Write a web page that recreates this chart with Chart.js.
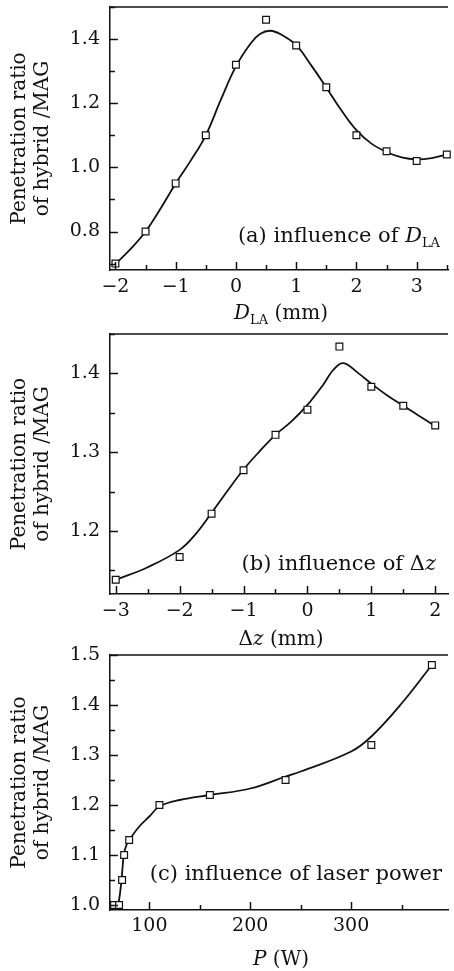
<!DOCTYPE html>
<html>
<head>
<meta charset="utf-8">
<script src="https://cdn.jsdelivr.net/npm/chart.js@4.4.1/dist/chart.umd.min.js"></script>
<style>
  body { margin: 0; background: #fff; overflow: hidden; }
  canvas { position: absolute; left: 0; }
</style>
</head>
<body>
<canvas id="chartA" width="454" height="330" style="top:0px"></canvas>
<canvas id="chartB" width="454" height="330" style="top:325px"></canvas>
<canvas id="chartC" width="454" height="331" style="top:640px"></canvas>
<script>
// (a) influence of D_LA
const dlaValues = [-2, -1.5, -1, -0.5, 0, 0.5, 1, 1.5, 2, 2.5, 3, 3.5]
const dlaRatio = [0.70, 0.80, 0.95, 1.10, 1.32, 1.46, 1.38, 1.25, 1.10, 1.05, 1.02, 1.04]
const dlaFitX = [-2, -1.75, -1.5, -1.25, -1, -0.75, -0.5, -0.25, 0, 0.25, 0.4, 0.57, 0.75, 1, 1.25, 1.5, 1.75, 2, 2.25, 2.5, 2.75, 3, 3.25, 3.5]
const dlaFitY = [0.699, 0.745, 0.80, 0.872, 0.95, 1.021, 1.10, 1.211, 1.315, 1.388, 1.416, 1.426, 1.414, 1.381, 1.318, 1.249, 1.178, 1.116, 1.074, 1.048, 1.031, 1.025, 1.029, 1.04]
const dlaXTicks = [-2, -1.5, -1, -0.5, 0, 0.5, 1, 1.5, 2, 2.5, 3, 3.5]
const dlaXLabels = [-2, -1, 0, 1, 2, 3]
const dlaYTicks = [0.7, 0.8, 0.9, 1.0, 1.1, 1.2, 1.3, 1.4, 1.5]
const dlaYLabels = [0.8, 1.0, 1.2, 1.4]

// (b) influence of delta z
const dzValues = [-3, -2, -1.5, -1, -0.5, 0, 0.5, 1, 1.5, 2]
const dzRatio = [1.138, 1.167, 1.222, 1.277, 1.322, 1.354, 1.434, 1.383, 1.359, 1.334]
const dzFitX = [-3, -2.5, -2, -1.75, -1.5, -1.25, -1, -0.75, -0.5, -0.25, 0, 0.25, 0.4, 0.56, 0.8, 1, 1.25, 1.5, 1.75, 2]
const dzFitY = [1.138, 1.154, 1.176, 1.196, 1.223, 1.251, 1.278, 1.301, 1.322, 1.339, 1.360, 1.386, 1.404, 1.413, 1.400, 1.387, 1.372, 1.359, 1.346, 1.333]
const dzXTicks = [-3, -2.5, -2, -1.5, -1, -0.5, 0, 0.5, 1, 1.5, 2]
const dzXLabels = [-3, -2, -1, 0, 1, 2]
const dzYTicks = [1.15, 1.2, 1.25, 1.3, 1.35, 1.4, 1.45]
const dzYLabels = [1.2, 1.3, 1.4]

// (c) influence of laser power
const powerValues = [65, 70, 73, 75, 80, 110, 160, 235, 320, 380]
const powerRatio = [1.0, 1.0, 1.05, 1.10, 1.13, 1.20, 1.22, 1.25, 1.32, 1.48]
const powerFitX = [68, 70, 72.4, 74.7, 77.3, 80.5, 90, 100, 110, 130, 160, 200, 235, 250, 300, 320, 350, 380]
const powerFitY = [0.995, 1.01, 1.05, 1.10, 1.12, 1.131, 1.157, 1.177, 1.197, 1.21, 1.22, 1.233, 1.257, 1.267, 1.307, 1.337, 1.403, 1.48]
const powerXTicks = [100, 150, 200, 250, 300, 350]
const powerXLabels = [100, 200, 300]
const powerYTicks = [1.0, 1.05, 1.1, 1.15, 1.2, 1.25, 1.3, 1.35, 1.4, 1.45, 1.5]
const powerYLabels = [1.0, 1.1, 1.2, 1.3, 1.4, 1.5]

const ink = '#111'
const serif = '"DejaVu Serif", serif'
const f20 = '20px ' + serif
const i20 = 'italic 20px ' + serif
const f21 = '21px ' + serif
const i21 = 'italic 21px ' + serif
const f13 = '13px ' + serif

const has = (list, v) => list.some(l => Math.abs(l - v) < 1e-9)

function drawRich(ctx, parts, x, y, align) {
  let w = 0
  parts.forEach(p => { ctx.font = p.font; w += ctx.measureText(p.text).width })
  let cx = align === 'right' ? x - w : align === 'center' ? x - w / 2 : x
  ctx.save()
  ctx.fillStyle = ink
  ctx.textAlign = 'left'
  ctx.textBaseline = 'alphabetic'
  parts.forEach(p => {
    ctx.font = p.font
    ctx.fillText(p.text, cx, y + (p.dy || 0))
    cx += ctx.measureText(p.text).width
  })
  ctx.restore()
}

// top frame line, inward ticks and the rich texts
const framePlugin = {
  id: 'frame',
  afterDraw(chart, args, opts) {
    const { ctx, chartArea: a, scales } = chart
    ctx.save()
    ctx.strokeStyle = ink
    ctx.lineWidth = 1.5
    ctx.beginPath()
    ctx.moveTo(a.left, a.top)
    ctx.lineTo(a.right, a.top)
    ctx.stroke()
    scales.x.ticks.forEach(t => {
      const px = Math.round(scales.x.getPixelForValue(t.value)) + 0.5
      const len = t.label ? 8 : 5
      ctx.beginPath()
      ctx.moveTo(px, a.bottom)
      ctx.lineTo(px, a.bottom - len)
      ctx.stroke()
    })
    scales.y.ticks.forEach(t => {
      const py = Math.round(scales.y.getPixelForValue(t.value)) + 0.5
      const len = t.label ? 8 : 5
      ctx.beginPath()
      ctx.moveTo(a.left, py)
      ctx.lineTo(a.left + len, py)
      ctx.stroke()
    })
    ctx.restore()
    drawRich(ctx, opts.note, opts.noteX, opts.noteY, 'right')
    drawRich(ctx, opts.title, (a.left + a.right) / 2 + 2, opts.titleY, 'center')
  }
}

function makeChart(id, p) {
  return new Chart(document.getElementById(id), {
    type: 'scatter',
    data: {
      datasets: [{
        data: p.fitX.map((x, i) => ({ x: x, y: p.fitY[i] })),
        showLine: true,
        borderColor: ink,
        borderWidth: 1.8,
        pointRadius: 0,
        tension: 0.4,
        order: 2
      }, {
        data: p.xs.map((x, i) => ({ x: x, y: p.ys[i] })),
        showLine: false,
        pointStyle: 'rect',
        pointRadius: 4.8,
        pointBorderWidth: 1.2,
        borderColor: ink,
        backgroundColor: '#fff',
        clip: false,
        order: 1
      }]
    },
    options: {
      responsive: false,
      animation: false,
      events: [],
      layout: { padding: { top: p.top, left: 0, right: 0, bottom: 0 } },
      plugins: {
        legend: { display: false },
        tooltip: { enabled: false },
        frame: { note: p.note, noteX: p.noteX, noteY: p.noteY, title: p.title, titleY: p.titleY }
      },
      scales: {
        x: {
          type: 'linear',
          min: p.xMin,
          max: p.xMax,
          afterBuildTicks: s => { s.ticks = p.xTicks.map(v => ({ value: v })) },
          afterFit: s => { s.height = p.xHeight; s.paddingLeft = 0; s.paddingRight = 0 },
          grid: { display: false, drawTicks: false },
          border: { display: true, color: ink, width: 1.5 },
          ticks: {
            autoSkip: false,
            maxRotation: 0,
            padding: p.xPad,
            color: ink,
            font: { family: serif, size: 19 },
            callback: v => has(p.xLabels, v) ? (v < 0 ? '\u2212' + Math.abs(v) : String(v)) : ''
          }
        },
        y: {
          min: p.yMin,
          max: p.yMax,
          afterBuildTicks: s => { s.ticks = p.yTicks.map(v => ({ value: v })) },
          afterFit: s => { s.width = 110; s.paddingTop = 0; s.paddingBottom = 0 },
          grid: { display: false, drawTicks: false },
          border: { display: true, color: ink, width: 1.5 },
          ticks: {
            autoSkip: false,
            padding: 10,
            color: ink,
            font: { family: serif, size: 19 },
            callback: v => has(p.yLabels, v) ? v.toFixed(1) : ''
          },
          title: {
            display: true,
            text: ['Penetration ratio', 'of hybrid /MAG'],
            color: ink,
            font: { family: serif, size: 20, lineHeight: 1.15 },
            padding: { top: 8.5, bottom: 0 }
          }
        }
      }
    },
    plugins: [framePlugin]
  })
}

makeChart('chartA', {
  xs: dlaValues, ys: dlaRatio, fitX: dlaFitX, fitY: dlaFitY,
  xMin: -2.09, xMax: 3.52, yMin: 0.68, yMax: 1.5,
  xTicks: dlaXTicks, xLabels: dlaXLabels, yTicks: dlaYTicks, yLabels: dlaYLabels,
  top: 7, xHeight: 60, xPad: 6,
  note: [{ text: '(a) influence of ', font: f21 }, { text: 'D', font: i21 }, { text: 'LA', font: f13, dy: 5 }],
  noteX: 440, noteY: 242,
  title: [{ text: 'D', font: i20 }, { text: 'LA', font: f13, dy: 5 }, { text: ' (mm)', font: f20 }],
  titleY: 319
})

makeChart('chartB', {
  xs: dzValues, ys: dzRatio, fitX: dzFitX, fitY: dzFitY,
  xMin: -3.09, xMax: 2.2, yMin: 1.12, yMax: 1.45,
  xTicks: dzXTicks, xLabels: dzXLabels, yTicks: dzYTicks, yLabels: dzYLabels,
  top: 9, xHeight: 61, xPad: 6,
  note: [{ text: '(b) influence of \u0394', font: f21 }, { text: 'z', font: i21 }],
  noteX: 436, noteY: 245,
  title: [{ text: '\u0394', font: f20 }, { text: 'z', font: i20 }, { text: ' (mm)', font: f20 }],
  titleY: 320
})

makeChart('chartC', {
  xs: powerValues, ys: powerRatio, fitX: powerFitX, fitY: powerFitY,
  xMin: 61, xMax: 396, yMin: 0.99, yMax: 1.5,
  xTicks: powerXTicks, xLabels: powerXLabels, yTicks: powerYTicks, yLabels: powerYLabels,
  top: 15, xHeight: 61, xPad: 5,
  note: [{ text: '(c) influence of laser power', font: f21 }],
  noteX: 442, noteY: 240,
  title: [{ text: 'P', font: i20 }, { text: ' (W)', font: f20 }],
  titleY: 325
})
</script>
</body>
</html>
